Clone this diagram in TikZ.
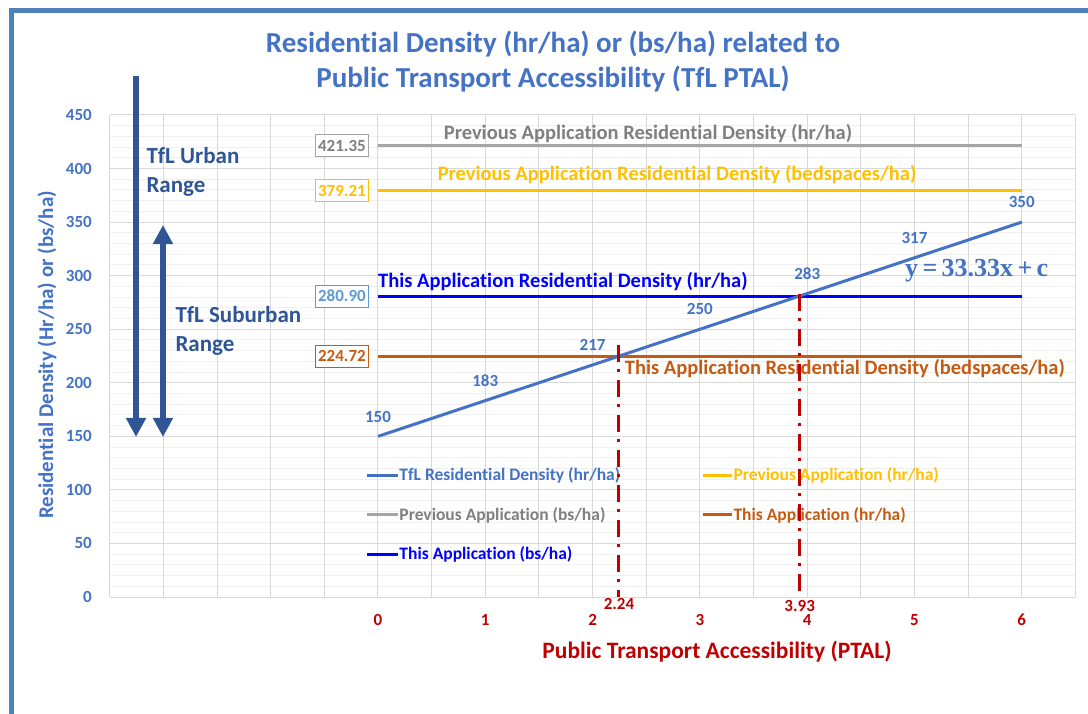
\documentclass[tikz,border=0pt]{standalone}
\usepackage{fontspec}
\setmainfont{Carlito}[Ligatures={NoCommon}]
\newfontfamily\eqfont{Liberation Serif}
\usetikzlibrary{arrows.meta}

\definecolor{tflblue}{HTML}{4472C4}
\definecolor{rangeblue}{HTML}{2F5597}
\definecolor{prevgrey}{HTML}{A5A5A5}
\definecolor{prevgreytext}{HTML}{7F7F7F}
\definecolor{prevyellow}{HTML}{FFC000}
\definecolor{thisblue}{HTML}{0000FF}
\definecolor{thisorange}{HTML}{C55A11}
\definecolor{boxblue}{HTML}{5B9BD5}
\definecolor{ptalred}{HTML}{C00000}
\definecolor{framecol}{HTML}{4F81BD}
\definecolor{gridmajor}{HTML}{D9D9D9}
\definecolor{gridminor}{HTML}{F0F0F0}

\tikzset{
	valbox/.style = {draw, line width=1pt, fill=white, minimum width=53pt, minimum height=22pt, inner sep=0pt, font=\fontsize{17}{18}\selectfont\bfseries},
	linelab/.style = {inner sep=0pt, font=\fontsize{20.5}{24}\selectfont\bfseries},
	leglab/.style = {anchor=west, inner sep=0pt, font=\fontsize{17.5}{20}\selectfont\bfseries},
	ticklab/.style = {inner sep=0pt, font=\fontsize{17}{20}\selectfont\bfseries},
	datalab/.style = {inner sep=0pt, tflblue, font=\fontsize{17}{20}\selectfont\bfseries},
	ptal/.style = {ptalred, line width=3pt, dash pattern = on 17pt off 7pt on 3pt off 8pt},
}

\begin{document}
\begin{tikzpicture}[x=107.3pt, y=1.0711pt, > = {Triangle[width=19pt,length=19pt]}]
	\useasboundingbox (-3.5228,-108.30) rectangle (6.6170,557.37);

	\draw[framecol, line width=5pt] (-3.420,-120) -- (-3.420,547.1) -- (7,547.1);

	% grid
	\foreach \y in {0,10,...,450} \draw[gridminor, line width=1pt] (-2.5,\y) -- (6.5,\y);
	\foreach \y in {0,50,...,450} \draw[gridmajor, line width=1pt] (-2.5,\y) -- (6.5,\y);
	\foreach \x in {-2.5,-2,...,6.5} \draw[gridmajor, line width=1pt] (\x,0) -- (\x,450);

	\foreach \y in {0,50,...,450} \node[ticklab, tflblue, anchor=east] at (-2.665,\y) {\y};
	\foreach \x in {0,...,6} \node[ticklab, ptalred] at (\x,-21.5) {\x};

	\node[tflblue, align=center, font=\fontsize{29}{35}\selectfont\bfseries] (title) at (1.631,499.5) {Residential Density (hr/ha) or (bs/ha) related to\\Public Transport Accessibility (TfL PTAL)};
	\node[tflblue, rotate=90, font=\fontsize{21}{24}\selectfont\bfseries] (ylab) at (-3.085,225.9) {Residential Density (Hr/ha) or (bs/ha)};
	\node[ptalred, font=\fontsize{23.5}{26}\selectfont\bfseries] (xlab) at (3.159,-51.3) {Public Transport Accessibility (PTAL)};

	% TfL ranges
	\draw[rangeblue, line width=6pt, ->] (-2.255,486) -- (-2.255,149.4);
	\draw[rangeblue, line width=6pt, <->] (-2.004,347.3) -- (-2.004,149.4);
	\node[rangeblue, anchor=west, align=left, font=\fontsize{23}{29}\selectfont\bfseries] (urban) at (-2.19,397.2) {TfL Urban\\Range};
	\node[rangeblue, anchor=west, align=left, font=\fontsize{23}{29}\selectfont\bfseries] (suburban) at (-1.92,248.8) {TfL Suburban\\Range};

	% application densities
	\draw[prevgrey, line width=3pt] (0,421.35) -- (6,421.35);
	\draw[prevyellow, line width=3pt] (0,379.21) -- (6,379.21);
	\draw[thisblue, line width=3pt] (0,280.90) -- (6,280.90);
	\draw[thisorange, line width=3pt] (0,224.72) -- (6,224.72);

	\node[valbox, draw=prevgrey, text=prevgreytext] (prevhr) at (-0.336,421.35) {421.35};
	\node[valbox, draw=prevyellow, text=prevyellow] (prevbs) at (-0.336,379.21) {379.21};
	\node[valbox, draw=boxblue, text=boxblue] (thishr) at (-0.336,280.90) {280.90};
	\node[valbox, draw=thisorange, text=thisorange] (thisbs) at (-0.336,224.72) {224.72};

	\node[linelab, prevgreytext] (prevhrlab) at (2.516,432.3) {Previous Application Residential Density (hr/ha)};
	\node[linelab, prevyellow] (prevbslab) at (2.787,394.9) {Previous Application Residential Density (bedspaces/ha)};
	\node[linelab, thisblue, anchor=west] (thishrlab) at (0,294.1) {This Application Residential Density (hr/ha)};
	\node[linelab, thisorange, anchor=west] (thisbslab) at (2.30,212.9) {This Application Residential Density (bedspaces/ha)};

	% TfL density line
	\draw[tflblue, line width=3pt] (0,150) -- (6,350);
	\foreach \x/\v in {0/150,1/183,2/217,3/250,4/283,5/317,6/350}
		\node[datalab] at (\x,{\v+18.5}) {\v};
	\node[tflblue, font=\fontsize{26}{28}\selectfont\eqfont\bfseries] (eq) at (5.58,304.4) {y\,=\,33.33x\,+\,c};

	% legend
	\draw[tflblue, line width=3pt] (-0.103,113.9) -- (0.186,113.9) node[leglab] {TfL Residential Density (hr/ha)};
	\draw[prevgrey, line width=3pt] (-0.103,76.6) -- (0.186,76.6) node[leglab, prevgreytext] {Previous Application (bs/ha)};
	\draw[thisblue, line width=3pt] (-0.103,40.1) -- (0.186,40.1) node[leglab] {This Application (bs/ha)};
	\draw[prevyellow, line width=3pt] (3.03,113.9) -- (3.30,113.9) node[leglab] {Previous Application (hr/ha)};
	\draw[thisorange, line width=3pt] (3.03,76.6) -- (3.30,76.6) node[leglab] {This Application (hr/ha)};

	% PTAL read-offs
	\draw[ptal] (2.24,235) -- (2.24,0);
	\draw[ptal] (3.93,283) -- (3.93,0);
	\node[ticklab, ptalred] (ptala) at (2.246,-6.5) {2.24};
	\node[ticklab, ptalred] (ptalb) at (3.93,-8.4) {3.93};
\end{tikzpicture}
\end{document}
